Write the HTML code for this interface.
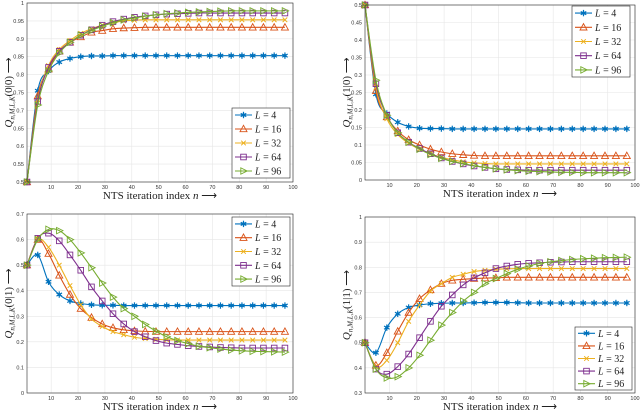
<!DOCTYPE html>
<html><head><meta charset="utf-8"><style>
html,body{margin:0;padding:0;background:#fff}
svg{display:block}
text{font-family:"Liberation Sans",sans-serif}
.serif{font-family:"Liberation Serif",serif}
</style></head><body>
<svg id="fig" width="640" height="414" viewBox="0 0 640 414" xmlns="http://www.w3.org/2000/svg"></svg>
<script>
const seriesLabels=["4","16","32","64","96"];
const markerN=[1,5,9,13,17,21,25,29,33,37,41,45,49,53,57,61,65,69,73,77,81,85,89,93,97];
const colors=["#0072BD","#D95319","#EDB120","#7E2F8E","#77AC30"];
const markers=["star","tri","x","sq","rtri"];
function fill(a){while(a.length<25)a.push(a[a.length-1]);return a;}
// Panel 1: Q(0|0)
const p1L4=fill([0.5,0.755,0.81,0.835,0.845,0.85,0.852,0.852,0.853]);
const p1L16=fill([0.5,0.74,0.815,0.865,0.89,0.905,0.918,0.923,0.928,0.93,0.931,0.932]);
const p1L32=fill([0.5,0.73,0.825,0.87,0.895,0.915,0.928,0.938,0.945,0.95,0.952,0.953]);
const p1L64=fill([0.5,0.725,0.82,0.865,0.89,0.91,0.925,0.938,0.948,0.955,0.96,0.964,0.967,0.969,0.97,0.971,0.972]);
const p1L96=fill([0.5,0.715,0.81,0.86,0.89,0.91,0.923,0.935,0.945,0.953,0.958,0.963,0.967,0.97,0.972,0.974,0.975,0.976,0.977,0.978]);
// Panel 2: Q(1|0)
const p2L4=fill([0.5,0.245,0.19,0.165,0.153,0.148,0.147,0.147,0.146]);
const p2L16=fill([0.5,0.255,0.18,0.14,0.115,0.1,0.088,0.08,0.075,0.072,0.07,0.069]);
const p2L32=fill([0.5,0.265,0.175,0.13,0.105,0.088,0.075,0.065,0.058,0.052,0.049,0.047,0.046]);
const p2L64=fill([0.5,0.275,0.185,0.135,0.108,0.09,0.075,0.063,0.053,0.046,0.04,0.036,0.032,0.03,0.029,0.028]);
const p2L96=fill([0.5,0.285,0.185,0.135,0.108,0.088,0.073,0.062,0.053,0.047,0.041,0.036,0.032,0.029,0.027,0.025,0.024,0.023,0.022,0.022,0.021]);
// Panel 3: Q(0|1)
const p3L4=fill([0.5,0.54,0.435,0.385,0.36,0.35,0.345,0.343,0.343,0.342]);
const p3L16=fill([0.5,0.6,0.545,0.46,0.385,0.33,0.295,0.27,0.255,0.247,0.243,0.241,0.24]);
const p3L32=fill([0.5,0.6,0.57,0.5,0.42,0.345,0.29,0.26,0.24,0.228,0.218,0.213,0.21,0.208,0.207]);
const p3L64=fill([0.5,0.605,0.625,0.595,0.54,0.48,0.415,0.36,0.31,0.27,0.24,0.22,0.205,0.195,0.19,0.185,0.182,0.18,0.178,0.177,0.176]);
const p3L96=fill([0.5,0.6,0.64,0.635,0.6,0.548,0.49,0.43,0.375,0.33,0.3,0.268,0.242,0.22,0.205,0.193,0.183,0.177,0.172,0.168,0.165,0.163,0.162,0.161,0.16]);
// Panel 4: Q(1|1)
const p4L4=fill([0.5,0.46,0.56,0.615,0.64,0.65,0.655,0.657,0.658,0.658,0.659,0.66,0.66,0.66,0.659,0.658]);
const p4L16=fill([0.5,0.41,0.46,0.545,0.62,0.675,0.71,0.735,0.748,0.752,0.755,0.757,0.758,0.76]);
const p4L32=fill([0.5,0.405,0.43,0.5,0.585,0.65,0.705,0.735,0.76,0.772,0.783,0.788,0.792,0.794,0.795]);
const p4L64=fill([0.5,0.395,0.375,0.405,0.455,0.52,0.585,0.645,0.69,0.73,0.758,0.778,0.795,0.805,0.812,0.816,0.818,0.82,0.821,0.822]);
const p4L96=fill([0.5,0.395,0.36,0.365,0.4,0.45,0.51,0.57,0.62,0.665,0.7,0.735,0.755,0.775,0.792,0.805,0.815,0.822,0.827,0.831,0.834,0.836,0.838,0.839,0.84]);
const xTicks=[10,20,30,40,50,60,70,80,90,100];
const p1Ticks=[0.5,0.55,0.6,0.65,0.7,0.75,0.8,0.85,0.9,0.95,1];
const p2Ticks=[0,0.05,0.1,0.15,0.2,0.25,0.3,0.35,0.4,0.45,0.5];
const p3Ticks=[0,0.1,0.2,0.3,0.4,0.5,0.6,0.7];
const p4Ticks=[0.3,0.4,0.5,0.6,0.7,0.8,0.9,1];

const NS="http://www.w3.org/2000/svg";
const svg=document.getElementById('fig');
function el(tag,attrs,parent){const e=document.createElementNS(NS,tag);for(const k in attrs)e.setAttribute(k,attrs[k]);(parent||svg).appendChild(e);return e;}
function fmt(v){return String(+v.toFixed(2));}
function smooth(pts){let d="M"+pts[0][0]+","+pts[0][1];for(let i=0;i<pts.length-1;i++){const p0=pts[i-1]||pts[i],p1=pts[i],p2=pts[i+1],p3=pts[i+2]||p2;
const c1=[p1[0]+(p2[0]-p0[0])/6,p1[1]+(p2[1]-p0[1])/6],c2=[p2[0]-(p3[0]-p1[0])/6,p2[1]-(p3[1]-p1[1])/6];
d+=" C"+c1.join(",")+" "+c2.join(",")+" "+p2.join(",");}return d;}
function marker(g,type,x,y,c){const r=3.2;
if(type=="star"){for(let a=0;a<3;a++){const t=a*Math.PI/3+Math.PI/2;el('line',{x1:x-r*Math.cos(t),y1:y-r*Math.sin(t),x2:x+r*Math.cos(t),y2:y+r*Math.sin(t),stroke:c,'stroke-width':1.2},g);}el('circle',{cx:x,cy:y,r:1.6,fill:c},g);}
else if(type=="tri")el('polygon',{points:`${x},${y-r-0.5} ${x-r-0.3},${y+r-0.5} ${x+r+0.3},${y+r-0.5}`,fill:'none',stroke:c,'stroke-width':0.9},g);
else if(type=="x"){el('path',{d:`M${x-2.3},${y-2.3}L${x+2.3},${y+2.3}M${x-2.3},${y+2.3}L${x+2.3},${y-2.3}`,stroke:c,'stroke-width':1},g);}
else if(type=="sq")el('rect',{x:x-2.8,y:y-2.8,width:5.6,height:5.6,fill:'none',stroke:c,'stroke-width':0.9},g);
else el('polygon',{points:`${x-r+0.5},${y-r} ${x-r+0.5},${y+r} ${x+r+0.5},${y}`,fill:'none',stroke:c,'stroke-width':0.9},g);}

function panel(name,box,ymin,ymax,yTicks,series,ylab,leg){
 const g=el('g',{});
 
 
 const [L,T,R,B]=box;
 const xs=n=>L+(n-1)/99*(R-L), ys=v=>B-(v-ymin)/(ymax-ymin)*(B-T);
 el('rect',{x:L,y:T,width:R-L,height:B-T,fill:'#fff'},g);
 const grid=el('g',{},g);
 
 
 xTicks.forEach(t=>{el('line',{x1:xs(t),x2:xs(t),y1:T,y2:B,stroke:'#e6e6e6','stroke-width':0.6},grid);
  const tx=el('text',{x:xs(t),y:B+7,'font-size':5.5,'text-anchor':'middle',fill:'#333'},g);tx.textContent=t;
  
  });
 yTicks.forEach(t=>{el('line',{x1:L,x2:R,y1:ys(t),y2:ys(t),stroke:'#e6e6e6','stroke-width':0.6},grid);
  const tx=el('text',{x:L-3,y:ys(t)+2,'font-size':5.5,'text-anchor':'end',fill:'#333'},g);tx.textContent=fmt(t);
  
  });
 series.forEach((s,i)=>{const sg=el('g',{},g);
  
  
  const pts=markerN.map((n,k)=>[xs(n),ys(s[k])]);
  el('path',{d:smooth(pts),fill:'none',stroke:colors[i],'stroke-width':1.1},sg);
  pts.forEach(p=>marker(sg,markers[i],p[0],p[1],colors[i]));});
 el('rect',{x:L,y:T,width:R-L,height:B-T,fill:'none',stroke:'#262626','stroke-width':0.6},g);
 const xl=el('text',{x:(L+R)/2,y:B+17,'font-size':11,'text-anchor':'middle',class:'serif',fill:'#222'},g);
 xl.innerHTML='NTS iteration index <tspan font-style="italic">n</tspan>  ⟶';
 
 
 const cy=(T+B)/2, cx=L-15;
 const yl=el('text',{x:cx,y:cy,'font-size':11,'text-anchor':'middle',class:'serif',fill:'#222',transform:`rotate(-90 ${cx} ${cy})`},g);
 yl.innerHTML='<tspan font-style="italic">Q</tspan><tspan font-size="7" dy="2.5" font-style="italic">n,M,L,K</tspan><tspan dy="-2.5">('+ylab+')  ⟶</tspan>';
 
 
 const [lx,ly,lw,lh]=leg;
 const lg=el('g',{},g);
 
 
 el('rect',{x:lx,y:ly,width:lw,height:lh,fill:'#fff',stroke:'#262626','stroke-width':0.6},lg);
 const step=lh/5;
 seriesLabels.forEach((lab,i)=>{const y=ly+step*(i+0.5);
  const eg=el('g',{},lg);
  
  
  el('line',{x1:lx+3,x2:lx+20,y1:y,y2:y,stroke:colors[i],'stroke-width':1.1},eg);
  marker(eg,markers[i],lx+11.5,y,colors[i]);
  const t=el('text',{x:lx+23,y:y+3.5,'font-size':10,class:'serif',fill:'#222'},eg);
  t.innerHTML='<tspan font-style="italic">L</tspan> = '+lab;});
}
panel('panel-q00',[27,3,293,182],0.5,1,p1Ticks,[p1L4,p1L16,p1L32,p1L64,p1L96],'0|0',[232,108,58,70]);
panel('panel-q10',[365,5,635,180],0,0.5,p2Ticks,[p2L4,p2L16,p2L32,p2L64,p2L96],'1|0',[572,6,58,71]);
panel('panel-q01',[27,214,293,393],0,0.7,p3Ticks,[p3L4,p3L16,p3L32,p3L64,p3L96],'0|1',[232,217,58,69]);
panel('panel-q11',[365,217,635,393],0.3,1,p4Ticks,[p4L4,p4L16,p4L32,p4L64,p4L96],'1|1',[575,327,57,63]);
</script>
</body></html>
